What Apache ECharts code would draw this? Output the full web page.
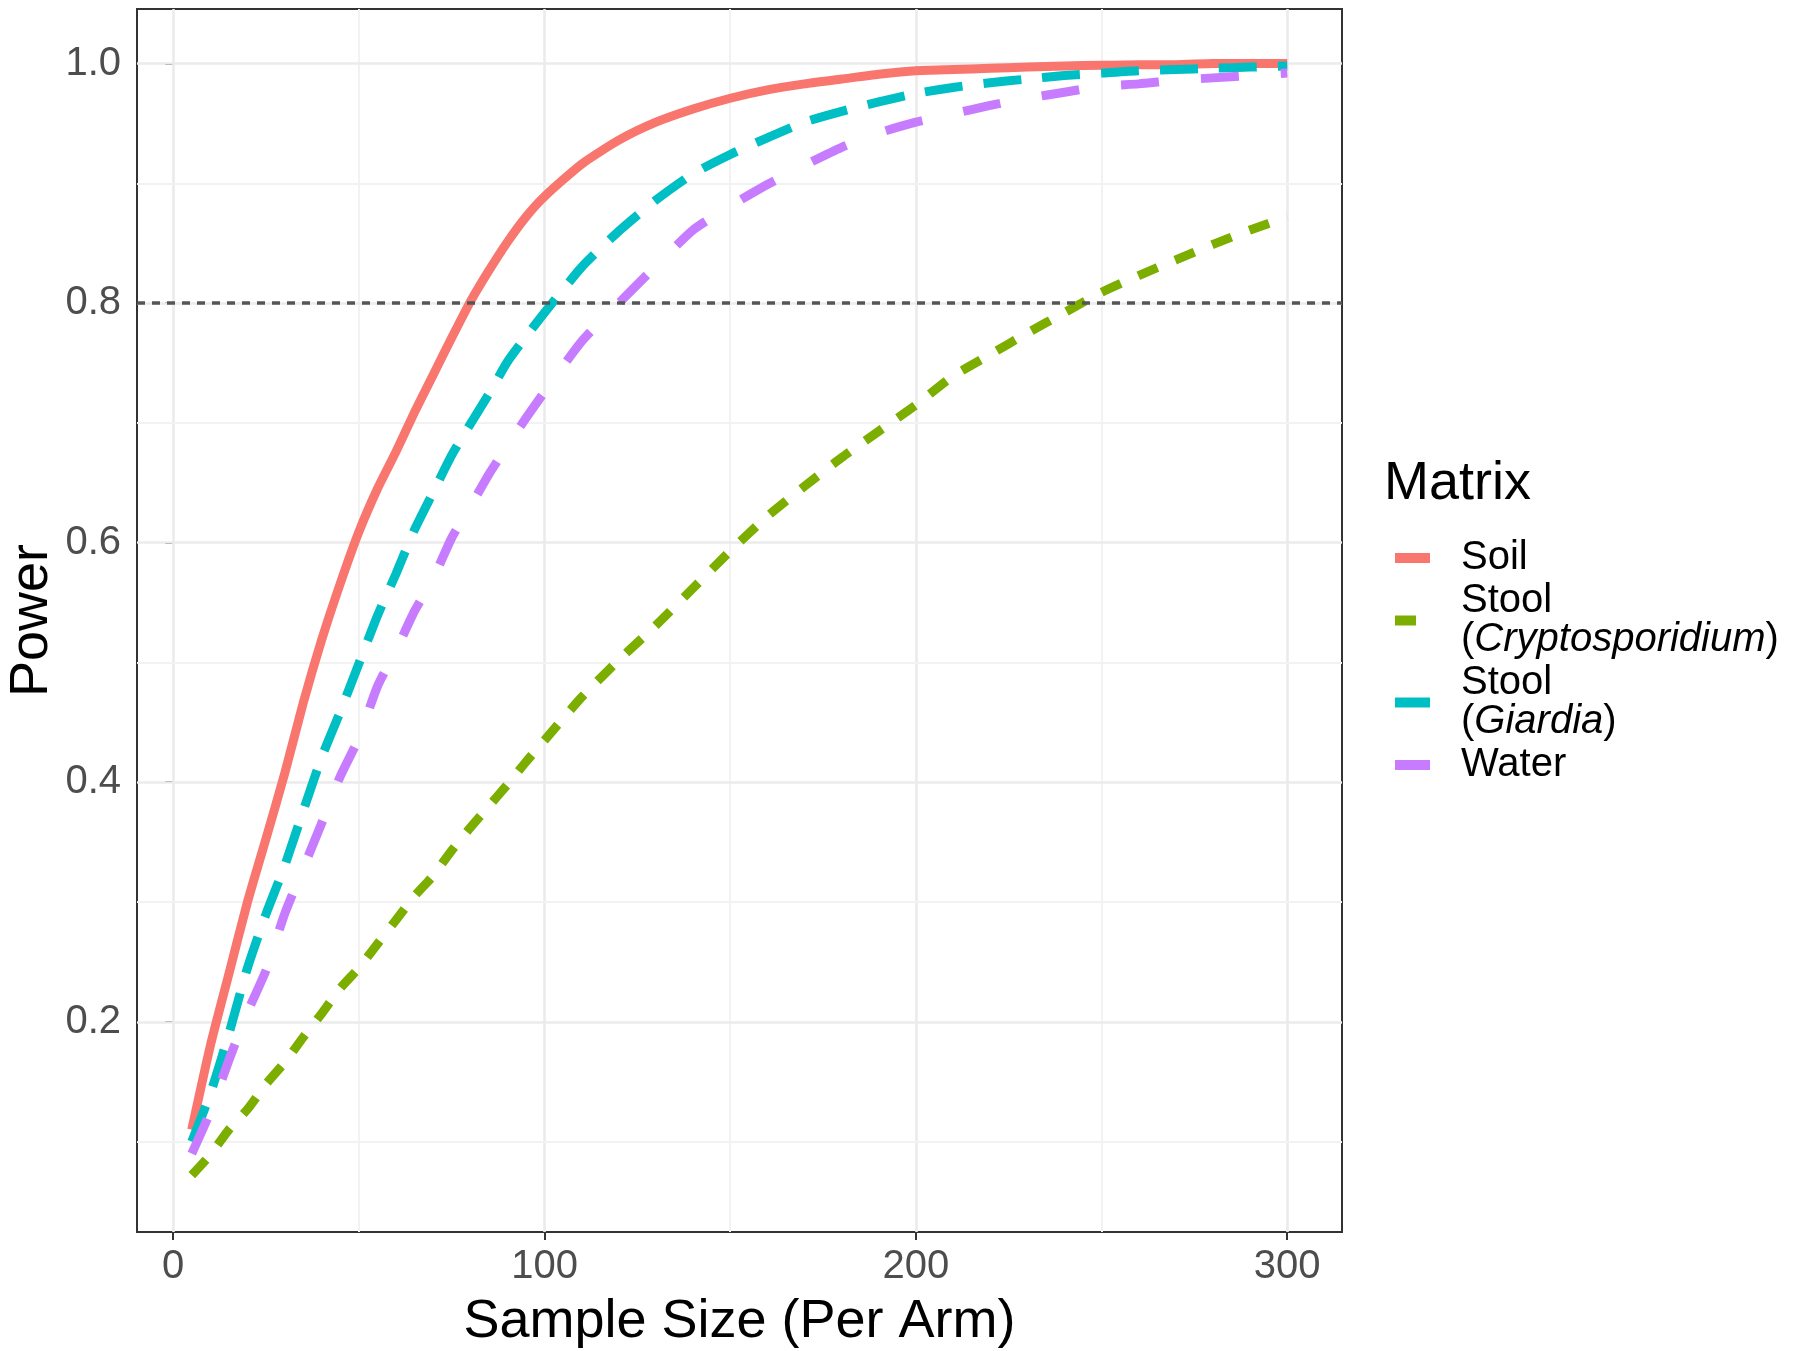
<!DOCTYPE html>
<html>
<head>
<meta charset="utf-8">
<script src="https://cdn.jsdelivr.net/npm/echarts@6.0.0/dist/echarts.min.js"></script>
<style>
  html, body { margin: 0; padding: 0; background: #fff; }
  #main { width: 1800px; height: 1351px; }
</style>
</head>
<body>
<div id="main"></div>
<script>
// values
const sampleSize = [5, 10, 15, 20, 25, 30, 35, 40, 45, 50, 55, 60, 65, 70, 75, 80, 85, 90, 95, 100,
  110, 120, 130, 140, 150, 160, 170, 180, 190, 200, 210, 220, 230, 240, 250, 260, 270, 280, 290, 300];
const soil = [0.11, 0.18, 0.24, 0.30, 0.353, 0.407, 0.466, 0.519, 0.566, 0.609, 0.645, 0.676, 0.709, 0.74, 0.771, 0.801, 0.827, 0.851, 0.872, 0.889,
  0.916, 0.936, 0.951, 0.962, 0.971, 0.978, 0.983, 0.987, 0.991, 0.994, 0.995, 0.996, 0.997, 0.998, 0.9985, 0.999, 0.999, 1.0, 1.0, 1.0];
const stoolCrypto = [0.072, 0.089, 0.11, 0.127, 0.148, 0.166, 0.187, 0.207, 0.228, 0.245, 0.265, 0.285, 0.305, 0.322, 0.343, 0.362, 0.38, 0.398, 0.417, 0.435,
  0.471, 0.502, 0.531, 0.562, 0.593, 0.622, 0.647, 0.671, 0.693, 0.715, 0.739, 0.757, 0.775, 0.792, 0.809, 0.823, 0.836, 0.849, 0.861, 0.872];
const stoolGiardia = [0.10, 0.14, 0.19, 0.245, 0.29, 0.33, 0.376, 0.421, 0.459, 0.499, 0.539, 0.574, 0.611, 0.642, 0.673, 0.699, 0.724, 0.751, 0.772, 0.792,
  0.83, 0.86, 0.886, 0.908, 0.924, 0.938, 0.951, 0.96, 0.968, 0.975, 0.98, 0.984, 0.987, 0.99, 0.992, 0.994, 0.995, 0.996, 0.997, 0.998];
const water = [0.09, 0.125, 0.168, 0.208, 0.243, 0.29, 0.328, 0.366, 0.405, 0.437, 0.48, 0.51, 0.543, 0.57, 0.604, 0.63, 0.657, 0.681, 0.704, 0.726,
  0.768, 0.80, 0.831, 0.861, 0.881, 0.899, 0.915, 0.93, 0.942, 0.951, 0.958, 0.965, 0.971, 0.976, 0.981, 0.983, 0.986, 0.988, 0.99, 0.992];

const xTicks = [0, 100, 200, 300];
const xMinor = [50, 150, 250];
const yTicks = [0.2, 0.4, 0.6, 0.8, 1.0];
const yMinor = [0.1, 0.3, 0.5, 0.7, 0.9];
const targetPower = 0.8;

const FONT = "'Liberation Sans', Arial, sans-serif";

const legendLabels = {
  "Soil": "Soil",
  "Stool (Cryptosporidium)": "Stool\n({i|Cryptosporidium})",
  "Stool (Giardia)": "Stool\n({i|Giardia})",
  "Water": "Water",
};

function pairs(ys) {
  return sampleSize.map((n, i) => [n, ys[i]]);
}

// grid lines as mark lines (ggplot-like major/minor)
const gridLines = [];
xTicks.forEach((v) => gridLines.push({ xAxis: v, lineStyle: { color: "#EBEBEB", width: 2.6, type: "solid" } }));
xMinor.forEach((v) => gridLines.push({ xAxis: v, lineStyle: { color: "#F2F2F2", width: 2, type: "solid" } }));
yTicks.forEach((v) => gridLines.push({ yAxis: v, lineStyle: { color: "#EBEBEB", width: 2.6, type: "solid" } }));
yMinor.forEach((v) => gridLines.push({ yAxis: v, lineStyle: { color: "#F2F2F2", width: 2, type: "solid" } }));

function curve(name, ys, color, dash) {
  return {
    name: name,
    type: "line",
    data: pairs(ys),
    symbol: "none",
    showSymbol: false,
    smooth: 0.2,
    z: 3,
    lineStyle: { color: color, width: 9, type: dash, cap: "butt", join: "round" },
    itemStyle: { color: color },
  };
}

const option = {
  animation: false,
  backgroundColor: "#fff",
  title: {
    text: "Matrix",
    left: 1384,
    top: 457,
    padding: 0,
    textStyle: { fontFamily: FONT, fontSize: 54, fontWeight: "normal", color: "#000" },
  },
  legend: {
    orient: "vertical",
    left: 1390,
    top: 538,
    padding: 0,
    itemGap: 3,
    itemWidth: 35,
    itemHeight: 10,
    selectedMode: false,
    data: ["Soil", "Stool (Cryptosporidium)", "Stool (Giardia)", "Water"],
    itemStyle: { opacity: 0 },
    lineStyle: { width: 10 },
    formatter: (name) => legendLabels[name],
    textStyle: {
      fontFamily: FONT,
      fontSize: 40,
      lineHeight: 39,
      color: "#000",
      padding: [0, 0, 0, 26],
      rich: {
        i: { fontFamily: FONT, fontSize: 40, lineHeight: 39, fontStyle: "italic", color: "#000" },
      },
    },
  },
  grid: {
    left: 137,
    right: 458,
    top: 9,
    bottom: 119,
    containLabel: false,
    outerBoundsMode: "none",
    show: true,
    backgroundColor: "#fff",
    borderColor: "#333",
    borderWidth: 2,
  },
  xAxis: {
    type: "value",
    min: -9.75,
    max: 314.75,
    name: "Sample Size (Per Arm)",
    nameLocation: "middle",
    nameGap: 63,
    nameMoveOverlap: false,
    nameTextStyle: { fontFamily: FONT, fontSize: 54, color: "#000" },
    axisLine: { show: false },
    axisTick: { show: true, customValues: xTicks, length: 8, lineStyle: { color: "#333", width: 2 } },
    axisLabel: { customValues: xTicks, fontFamily: FONT, fontSize: 40, color: "#4D4D4D", margin: 15 },
    splitLine: { show: false },
  },
  yAxis: {
    type: "value",
    min: 0.0245,
    max: 1.0455,
    name: "Power",
    nameLocation: "middle",
    nameGap: 78,
    nameMoveOverlap: false,
    nameTextStyle: { fontFamily: FONT, fontSize: 54, color: "#000" },
    axisLine: { show: false },
    axisTick: { show: true, customValues: yTicks, length: 8, lineStyle: { color: "#333", width: 2 } },
    axisLabel: {
      customValues: yTicks,
      fontFamily: FONT,
      fontSize: 40,
      color: "#4D4D4D",
      margin: 16,
      formatter: (v) => v.toFixed(1),
    },
    splitLine: { show: false },
  },
  series: [
    {
      name: "grid",
      type: "line",
      data: [],
      silent: true,
      z: 1,
      markLine: { silent: true, z: 1, symbol: "none", label: { show: false }, animation: false, data: gridLines },
    },
    curve("Soil", soil, "#F8766D", "solid"),
    curve("Stool (Cryptosporidium)", stoolCrypto, "#7CAE00", [21, 19]),
    curve("Stool (Giardia)", stoolGiardia, "#00BFC4", [38, 21]),
    curve("Water", water, "#C77CFF", [38, 42]),
    {
      name: "target",
      type: "line",
      data: [],
      silent: true,
      z: 6,
      markLine: {
        silent: true,
        z: 6,
        symbol: "none",
        label: { show: false },
        animation: false,
        lineStyle: { color: "#555", width: 3.5, type: [8, 7] },
        data: [{ yAxis: targetPower }],
      },
    },
  ],
};

const chart = echarts.init(document.getElementById("main"));
chart.setOption(option);
</script>
</body>
</html>
